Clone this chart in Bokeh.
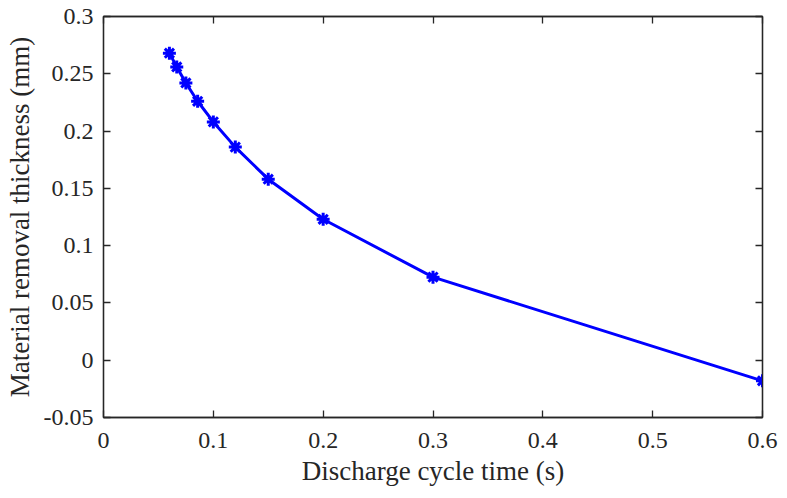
from bokeh.plotting import figure
from bokeh.models import LinearAxis, FixedTicker, Range1d
from bokeh.embed import file_html
from bokeh.resources import INLINE

# Data
cycle_time = [0.06, 0.0667, 0.075, 0.0857, 0.1, 0.12, 0.15, 0.2, 0.3, 0.6]
removal_thickness = [0.268, 0.256, 0.242, 0.226, 0.208, 0.186, 0.158, 0.123, 0.0725, -0.018]

x_ticks = [0, 0.1, 0.2, 0.3, 0.4, 0.5, 0.6]
x_tick_labels = ["0", "0.1", "0.2", "0.3", "0.4", "0.5", "0.6"]
y_ticks = [-0.05, 0, 0.05, 0.1, 0.15, 0.2, 0.25, 0.3]
y_tick_labels = ["-0.05", "0", "0.05", "0.1", "0.15", "0.2", "0.25", "0.3"]

FONT = "Liberation Serif"
TXT = "#262626"

p = figure(width=787, height=498, output_backend="svg", toolbar_location=None,
           x_range=Range1d(0, 0.6), y_range=Range1d(-0.05, 0.3),
           min_border_left=103, min_border_right=25, min_border_top=16, min_border_bottom=81,
           x_axis_label="Discharge cycle time (s)",
           y_axis_label="Material removal thickness (mm)")

p.grid.visible = False
p.outline_line_color = TXT
p.outline_line_width = 1.3
p.background_fill_color = "white"
p.border_fill_color = "white"

def style_axis(ax, ticks, labels, show_labels=True):
    ax.ticker = FixedTicker(ticks=ticks)
    ax.major_label_overrides = {t: l for t, l in zip(ticks, labels)}
    ax.major_tick_in = 7
    ax.major_tick_out = 0
    ax.minor_tick_in = 0
    ax.minor_tick_out = 0
    ax.axis_line_color = TXT
    ax.axis_line_width = 1.3
    ax.major_tick_line_color = TXT
    ax.major_tick_line_width = 1.3
    ax.major_label_text_font = FONT
    ax.major_label_text_font_size = "24px"
    ax.major_label_text_color = TXT
    ax.axis_label_text_font = FONT
    ax.axis_label_text_font_size = "27px"
    ax.axis_label_text_font_style = "normal"
    ax.axis_label_text_color = TXT
    if not show_labels:
        ax.major_label_text_font_size = "0px"
        ax.major_label_text_alpha = 0

style_axis(p.xaxis[0], x_ticks, x_tick_labels)
style_axis(p.yaxis[0], y_ticks, y_tick_labels)
p.xaxis[0].major_label_standoff = 15
p.yaxis[0].major_label_standoff = 10
p.xaxis[0].axis_label_standoff = 5
p.yaxis[0].axis_label_standoff = 6

top_axis = LinearAxis()
style_axis(top_axis, x_ticks, x_tick_labels, show_labels=False)
p.add_layout(top_axis, "above")
right_axis = LinearAxis()
style_axis(right_axis, y_ticks, y_tick_labels, show_labels=False)
p.add_layout(right_axis, "right")

p.line(cycle_time, removal_thickness, line_color="#0000ff", line_width=3)
p.scatter(cycle_time, removal_thickness, marker="asterisk", size=13,
          line_color="#0000ff", line_width=3)

open("out.html", "w").write(file_html(p, INLINE))
